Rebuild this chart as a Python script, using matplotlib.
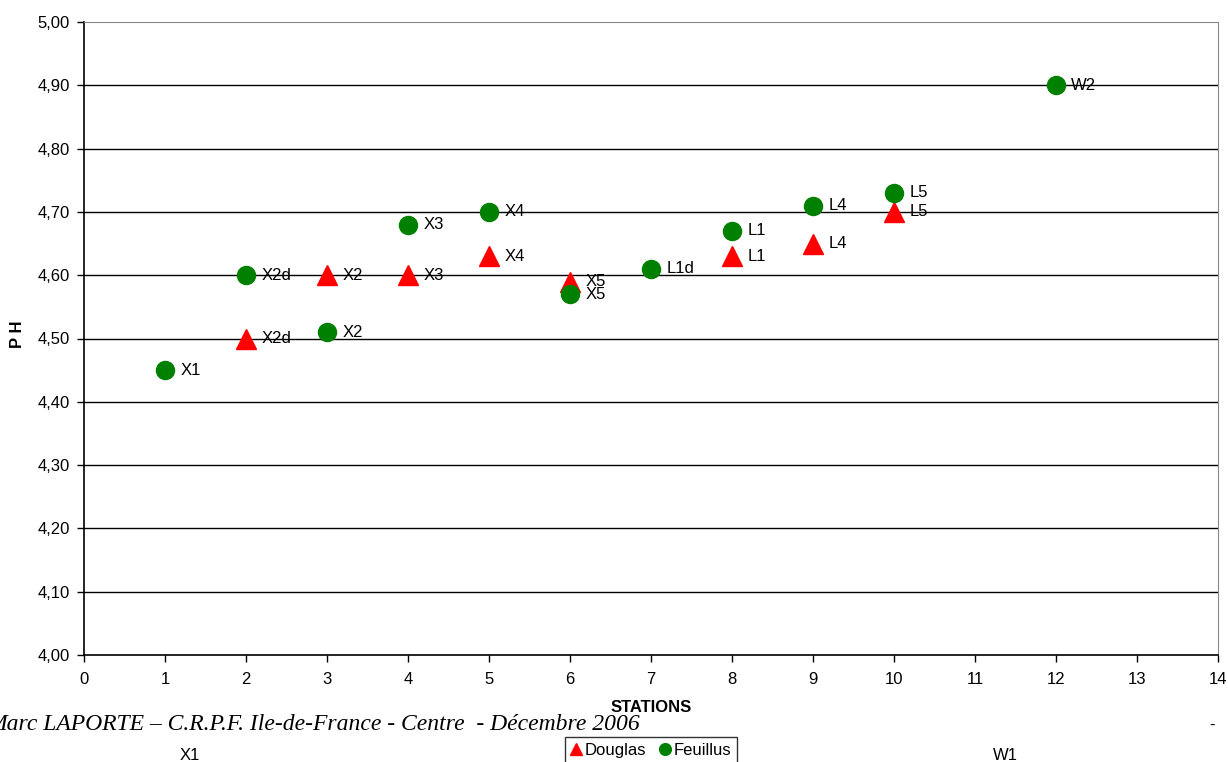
import matplotlib
matplotlib.use("Agg")
import matplotlib.pyplot as plt
from matplotlib.ticker import FixedLocator, FuncFormatter

plt.rcParams['font.family'] = ['Liberation Sans', 'DejaVu Sans']

# pH by station
douglas_x = [2, 3, 4, 5, 6, 8, 9, 10]
douglas_y = [4.50, 4.60, 4.60, 4.63, 4.59, 4.63, 4.65, 4.70]
douglas_lab = ["X2d", "X2", "X3", "X4", "X5", "L1", "L4", "L5"]

feuillus_x = [1, 2, 3, 4, 5, 6, 7, 8, 9, 10, 12]
feuillus_y = [4.45, 4.60, 4.51, 4.68, 4.70, 4.57, 4.61, 4.67, 4.71, 4.73, 4.90]
feuillus_lab = ["X1", "X2d", "X2", "X3", "X4", "X5", "L1d", "L1", "L4", "L5", "W2"]

x_ticks = list(range(0, 15))
y_ticks = [4.00 + 0.1 * i for i in range(11)]

fig = plt.figure(figsize=(12.28, 7.62), dpi=100)
ax = fig.add_axes([84 / 1228, 107 / 762, 1134 / 1228, 633 / 762])

ax.set_xlim(0, 14)
ax.set_ylim(4.0, 5.0)
ax.xaxis.set_major_locator(FixedLocator(x_ticks))
ax.yaxis.set_major_locator(FixedLocator(y_ticks))
ax.yaxis.set_major_formatter(FuncFormatter(lambda v, p: f"{v:.2f}".replace(".", ",")))
ax.tick_params(axis='both', direction='out', length=5, width=1, labelsize=12, color='black')
ax.tick_params(axis='x', pad=7)
ax.tick_params(axis='y', pad=5)

for yv in y_ticks[1:-1]:
    ax.axhline(yv, color='black', linewidth=1, zorder=1)

for side in ('top', 'right'):
    ax.spines[side].set_color('#888888')
for side in ('left', 'bottom'):
    ax.spines[side].set_color('black')
    ax.spines[side].set_linewidth(1.2)

ax.plot(douglas_x, douglas_y, linestyle='none', marker='^', markersize=14,
        color='#ff0000', markeredgecolor='#ff0000', zorder=3, label='Douglas', clip_on=False)
ax.plot(feuillus_x, feuillus_y, linestyle='none', marker='o', markersize=13,
        color='#008000', markeredgecolor='#008000', zorder=4, label='Feuillus', clip_on=False)

for x, y, t in zip(douglas_x, douglas_y, douglas_lab):
    ax.annotate(t, (x, y), xytext=(11, 0), textcoords='offset points',
                va='center', ha='left', fontsize=12, zorder=5)
for x, y, t in zip(feuillus_x, feuillus_y, feuillus_lab):
    ax.annotate(t, (x, y), xytext=(11, 0), textcoords='offset points',
                va='center', ha='left', fontsize=12, zorder=5)

fig.text(651 / 1228, 1 - 708 / 762, "STATIONS", ha='center', va='center',
         fontsize=12, fontweight='bold')
fig.text(18 / 1228, 1 - 334 / 762, "P H", ha='center', va='center',
         rotation=90, fontsize=12, fontweight='bold')

fig.text(640 / 1228, 1 - 724 / 762,
         "Marc LAPORTE \u2013 C.R.P.F. Ile-de-France - Centre  - D\u00e9cembre 2006",
         ha='right', va='center', fontsize=17, style='italic',
         family=['Liberation Serif', 'DejaVu Serif'])
fig.text(1212 / 1228, 1 - 725 / 762, "-", ha='center', va='center', fontsize=12)
fig.text(190 / 1228, 1 - 755 / 762, "X1", ha='center', va='center', fontsize=12)
fig.text(1005 / 1228, 1 - 755 / 762, "W1", ha='center', va='center', fontsize=12)

leg = fig.legend(loc='upper center', bbox_to_anchor=(651 / 1228, 1 - 737 / 762),
                 ncol=2, fontsize=12, frameon=True, fancybox=False, markerscale=0.65,
                 handlelength=0.6, handletextpad=0.25, columnspacing=0.8,
                 borderpad=0.35, borderaxespad=0)
leg.get_frame().set_edgecolor('black')
leg.get_frame().set_linewidth(1)

fig.savefig("out.png", dpi=100)
